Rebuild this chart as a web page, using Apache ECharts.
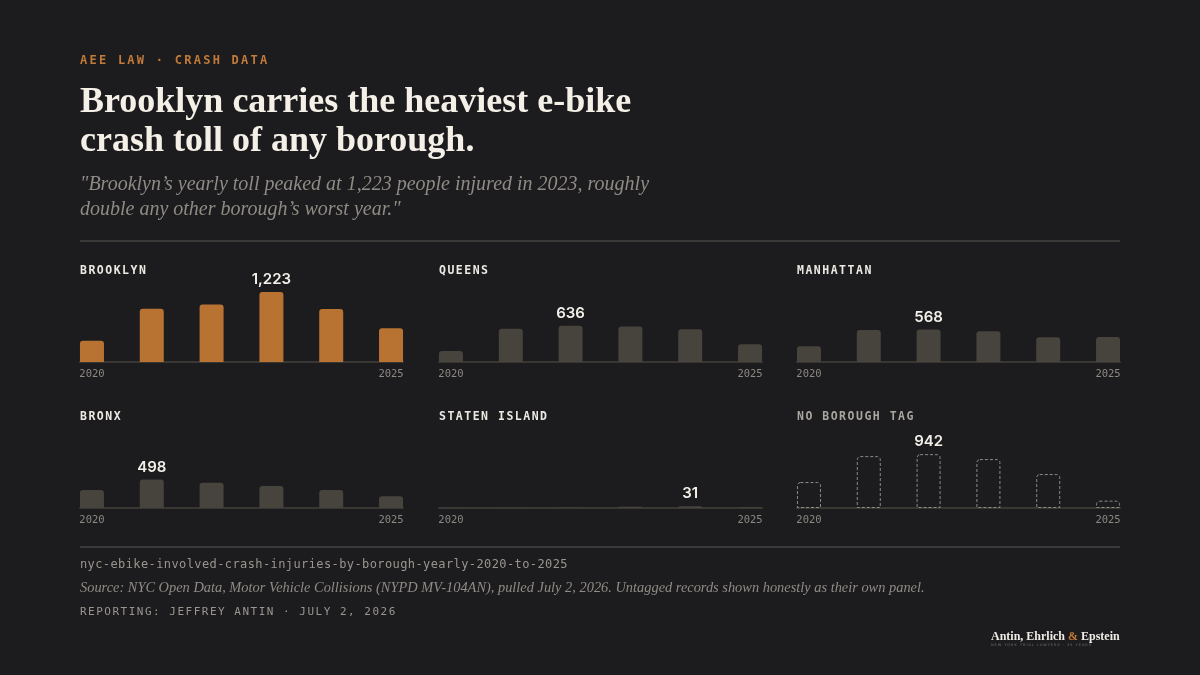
<!DOCTYPE html>
<html>
<head>
<meta charset="utf-8">
<script src="https://cdn.jsdelivr.net/npm/echarts@6/dist/echarts.min.js"></script>
<style>
body { margin: 0; background: #1c1c1e; }
.page { position: relative; width: 1200px; height: 675px; overflow: hidden; background: #1c1c1e; }
#main { position: absolute; left: 0; top: 0; width: 1200px; height: 675px; }
.txt { position: absolute; white-space: nowrap; }
.mono { font-family: 'DejaVu Sans Mono', monospace; }
.kicker { left: 80px; top: 52px; font-size: 12px; line-height: 16px; letter-spacing: 2.25px; color: #c27a3a; font-weight: bold; }
.title { left: 80px; top: 81px; font-family: 'Liberation Serif', serif; font-weight: bold; font-size: 36px; line-height: 39px; color: #f4f0e7; }
.sub { left: 80px; top: 171px; font-family: 'Liberation Serif', serif; font-style: italic; font-size: 20px; line-height: 25px; color: #8f8b85; }
.rule { position: absolute; left: 80px; width: 1040px; height: 2px; background: #3a3937; }
.ptitle { font-size: 11.5px; line-height: 14px; letter-spacing: 1.5px; font-weight: bold; color: #ece9e3; }
.file { left: 80px; top: 557px; font-size: 12px; line-height: 14px; letter-spacing: 0.4px; color: #9a968f; }
.source { left: 80px; top: 579px; font-family: 'Liberation Serif', serif; font-style: italic; font-size: 14.4px; line-height: 16px; color: #8f8b85; }
.byline { left: 80px; top: 605px; font-size: 11px; line-height: 14px; letter-spacing: 1.5px; color: #9a968f; }
.logo { left: 991px; top: 629px; font-family: 'Liberation Serif', serif; font-weight: bold; font-size: 12px; line-height: 14px; color: #efece6; }
.logo span { color: #c27a3a; }
.logosub { left: 991px; top: 643px; font-family: 'DejaVu Sans', sans-serif; font-size: 3.5px; line-height: 5px; letter-spacing: 1px; color: #77736d; }
</style>
</head>
<body>
<div class="page">
    <div id="main"></div>
    <div class="txt mono kicker">AEE LAW · CRASH DATA</div>
    <div class="txt title">Brooklyn carries the heaviest e-bike<br>crash toll of any borough.</div>
    <div class="txt sub">"Brooklyn’s yearly toll peaked at 1,223 people injured in 2023, roughly<br>double any other borough’s worst year."</div>
    <div class="rule" style="top:240px"></div>
    <div id="titles"></div>
    <div class="rule" style="top:546px"></div>
    <div class="txt mono file">nyc-ebike-involved-crash-injuries-by-borough-yearly-2020-to-2025</div>
    <div class="txt source">Source: NYC Open Data, Motor Vehicle Collisions (NYPD MV-104AN), pulled July 2, 2026. Untagged records shown honestly as their own panel.</div>
    <div class="txt mono byline">REPORTING: JEFFREY ANTIN · JULY 2, 2026</div>
    <div class="txt logo">Antin, Ehrlich <span>&amp;</span> Epstein</div>
    <div class="txt logosub">NEW YORK TRIAL LAWYERS · 35 YEARS</div>
</div>
<script>
// data
var years = [2020, 2021, 2022, 2023, 2024, 2025];
var yearTicks = [2020, 2025];
var panelTitles = ['BROOKLYN', 'QUEENS', 'MANHATTAN', 'BRONX', 'STATEN ISLAND', 'NO BOROUGH TAG'];
var brooklyn = [374, 933, 1008, 1223, 926, 589];
var queens = [192, 582, 636, 623, 571, 309];
var manhattan = [274, 559, 568, 536, 431, 437];
var bronx = [314, 498, 443, 384, 314, 204];
var statenIsland = [3, 6, 9, 22, 31, 12];
var noBoroughTag = [454, 908, 942, 856, 594, 128];

var panels = [brooklyn, queens, manhattan, bronx, statenIsland, noBoroughTag];
var lefts = [80, 439, 797];
var tops = [282, 428];

var grids = [];
var xAxes = [];
var yAxes = [];
var series = [];
var titlesHtml = '';

panels.forEach(function (vals, i) {
    var col = i % 3;
    var row = Math.floor(i / 3);
    grids.push({ left: lefts[col], top: tops[row], width: 323, height: 80 });
    xAxes.push({
        type: 'value',
        gridIndex: i,
        min: 2019.8,
        max: 2025.2,
        splitLine: { show: false },
        axisTick: { show: false },
        axisLine: { show: true, lineStyle: { color: '#393734', width: 2 } },
        axisLabel: {
            customValues: yearTicks,
            formatter: function (v) { return String(v); },
            fontFamily: 'DejaVu Sans Mono',
            fontSize: 10.5,
            color: '#8c8882',
            margin: 7
        }
    });
    yAxes.push({ type: 'value', gridIndex: i, min: 0, max: 1400, show: false });

    var maxIdx = vals.indexOf(Math.max.apply(null, vals));
    var untagged = i == 5;
    var data = vals.map(function (v, j) {
        var item = { value: [years[j], v] };
        if (j == maxIdx) {
            item.label = { show: true };
        }
        return item;
    });
    series.push({
        type: 'bar',
        xAxisIndex: i,
        yAxisIndex: i,
        barWidth: 24,
        data: data,
        itemStyle: untagged ? {
            color: 'rgba(0,0,0,0)',
            borderColor: '#8f8b86',
            borderWidth: 1,
            borderType: [3, 2],
            borderRadius: [3, 3, 0, 0]
        } : {
            color: i == 0 ? '#b87333' : '#47433d',
            borderRadius: [3, 3, 0, 0]
        },
        label: {
            show: false,
            position: 'top',
            distance: 5,
            fontFamily: 'Inter',
            fontWeight: 600,
            fontSize: 15,
            color: '#f3f0ea',
            formatter: function (p) { return p.value[1].toLocaleString('en-US'); }
        }
    });

    titlesHtml += '<div class="txt mono ptitle" style="left:' + lefts[col] + 'px;top:' + (263 + row * 146) +
        'px;' + (untagged ? 'color:#a9a59f;' : '') + '">' + panelTitles[i] + '</div>';
});
document.getElementById('titles').innerHTML = titlesHtml;

var myChart = echarts.init(document.getElementById('main'));
var option = {
    backgroundColor: 'transparent',
    animation: false,
    grid: grids,
    xAxis: xAxes,
    yAxis: yAxes,
    series: series
};
myChart.setOption(option);
</script>
</body>
</html>
